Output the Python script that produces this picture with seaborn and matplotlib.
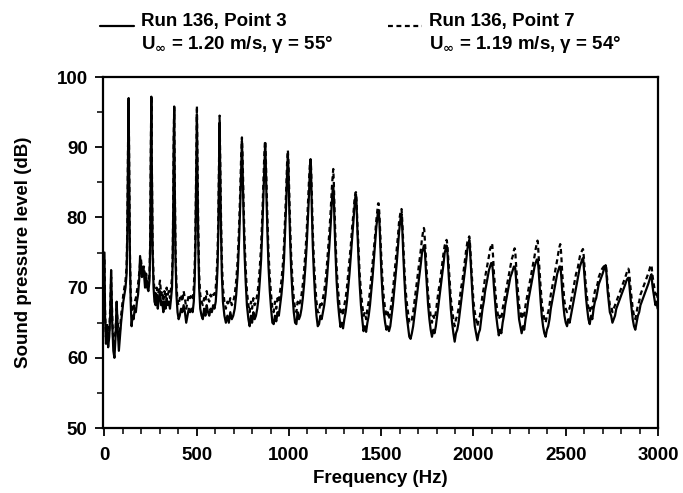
import matplotlib
matplotlib.use("Agg")
import matplotlib.pyplot as plt
import seaborn as sns
import pandas as pd
from matplotlib.lines import Line2D
from matplotlib.legend_handler import HandlerLine2D
from matplotlib.ticker import MultipleLocator

# ---------------- data ----------------
freq_hz = [
    0, 3, 8, 14, 20, 26, 31, 36, 42, 48, 54, 60, 66, 72, 78, 84, 90, 96, 102, 108, 114, 120, 124, 128, 131, 134, 138, 142, 147,
    152, 158, 164, 170, 176, 182, 188, 193, 198, 203, 208, 214, 220, 226, 232, 238, 244, 248, 251, 254, 257, 261, 266,
    271, 277, 283, 289, 295, 301, 307, 313, 319, 325, 331, 337, 343, 349, 355, 361, 366, 370, 373, 375, 378, 381, 385, 390,
    396, 402, 408, 415, 422, 429, 436, 443, 450, 457, 464, 471, 478, 484, 489, 493, 496, 498, 501, 504, 508, 513,
    519, 526, 533, 540, 547, 554, 561, 568, 575, 582, 589, 596, 603, 608, 613, 617, 620, 622, 624, 627, 631, 636,
    642, 650, 658, 666, 674, 682, 690, 698, 706, 714, 722, 730, 736, 741, 745, 747, 750, 754, 759, 765,
    772, 780, 787, 794, 800, 807, 814, 821, 828, 835, 842, 849, 855, 860, 865, 869, 871, 874, 878, 883, 889,
    896, 903, 910, 917, 924, 931, 938, 945, 952, 959, 966, 973, 979, 985, 990, 994, 997, 1001, 1006, 1012,
    1019, 1026, 1033, 1040, 1047, 1054, 1061, 1068, 1075, 1082, 1089, 1096, 1102, 1108, 1113, 1117, 1120, 1124, 1129, 1135,
    1142, 1149, 1156, 1163, 1170, 1177, 1184, 1191, 1198, 1205, 1212, 1219, 1226, 1232, 1237, 1240, 1243, 1247, 1252, 1258,
    1265, 1272, 1279, 1286, 1293, 1300, 1307, 1314, 1321, 1328, 1335, 1342, 1349, 1355, 1360, 1363, 1366, 1371, 1377, 1383,
    1390, 1397, 1404, 1411, 1418, 1425, 1432, 1439, 1446, 1453, 1460, 1467, 1473, 1479, 1483, 1486, 1490, 1495, 1501, 1507,
    1514, 1521, 1528, 1535, 1542, 1549, 1556, 1563, 1570, 1577, 1584, 1591, 1597, 1603, 1607, 1610, 1614, 1619, 1625, 1631,
    1638, 1645, 1652, 1659, 1666, 1673, 1680, 1687, 1694, 1701, 1708, 1715, 1721, 1727, 1731, 1733, 1737, 1742, 1748, 1754,
    1761, 1768, 1775, 1782, 1789, 1796, 1803, 1810, 1817, 1824, 1831, 1838, 1844, 1850, 1854, 1856, 1860, 1865, 1871, 1877,
    1884, 1891, 1898, 1905, 1912, 1919, 1926, 1933, 1940, 1947, 1954, 1961, 1967, 1973, 1977, 1979, 1983, 1988, 1994, 2000,
    2007, 2014, 2021, 2028, 2035, 2042, 2049, 2056, 2063, 2070, 2077, 2084, 2090, 2096, 2100, 2102, 2106, 2111, 2117, 2123,
    2130, 2137, 2144, 2151, 2158, 2165, 2172, 2179, 2186, 2193, 2200, 2207, 2213, 2219, 2223, 2226, 2230, 2235, 2241, 2247,
    2254, 2261, 2268, 2275, 2282, 2289, 2296, 2303, 2310, 2317, 2324, 2331, 2337, 2343, 2347, 2349, 2353, 2358, 2364, 2370,
    2377, 2384, 2391, 2398, 2405, 2412, 2419, 2426, 2433, 2440, 2447, 2454, 2460, 2466, 2470, 2472, 2476, 2481, 2487, 2493,
    2500, 2507, 2514, 2521, 2528, 2535, 2542, 2549, 2556, 2563, 2570, 2577, 2583, 2589, 2593, 2595, 2599, 2604, 2610, 2616,
    2623, 2630, 2637, 2644, 2651, 2658, 2665, 2672, 2679, 2686, 2693, 2700, 2706, 2712, 2716, 2718, 2722, 2727, 2733, 2739,
    2746, 2753, 2760, 2767, 2774, 2781, 2788, 2795, 2802, 2809, 2816, 2823, 2829, 2835, 2839, 2842, 2846, 2851, 2857, 2863,
    2870, 2877, 2884, 2891, 2898, 2905, 2912, 2919, 2926, 2933, 2940, 2947, 2953, 2958, 2962, 2965, 2969, 2974, 2980, 2986, 2992, 2998,
]

spl_point3 = [
    75, 66, 62, 64, 61.5, 63, 66, 72.5, 65, 61, 60, 63, 68, 64, 61, 63, 65, 66.5, 68, 69, 70, 72, 78, 90, 97, 86, 74, 68, 64.5,
    66, 65.5, 67, 66.5, 68, 69, 71, 74.5, 73, 71.5, 73, 72, 70, 71.5, 70, 69.5, 71, 76, 88, 97.2, 86, 75, 70,
    68, 67.5, 69, 67, 68.5, 69.5, 67.5, 68, 66.5, 68, 67, 68.5, 67.5, 68, 67, 68.5, 70, 74, 82, 90, 95.7, 84, 74, 69,
    66.5, 65.5, 66, 67, 66.5, 67.5, 66.5, 65, 66, 67, 66.5, 67, 66.5, 68, 71, 76, 83, 89, 94.7, 86, 77, 70,
    67, 66, 65.5, 67, 66, 67.5, 66.5, 66, 67, 66.5, 67.5, 67, 68, 70, 73, 78, 84, 89, 93.5, 87, 79, 72,
    68, 66, 65, 66, 65, 66.5, 65.5, 66, 67, 69, 72, 77, 82, 87, 90.9, 89, 85, 80, 75, 71,
    67.5, 65.5, 64.5, 66, 65, 66.5, 65.5, 66, 67, 68.5, 71, 74, 78, 82, 86, 89.5, 90.6, 88, 83, 78, 73,
    69.5, 67, 65, 64.8, 66, 65.2, 66.5, 66, 67.5, 69, 71, 74, 78, 82, 86.5, 89.0, 87, 82, 77, 72.5,
    69, 66.5, 65, 64.8, 66.5, 65.5, 66, 67, 68.5, 70.5, 73, 76, 79.5, 83, 86.5, 88.2, 86, 81, 76, 72,
    68.5, 66, 64.5, 64.8, 66, 65.5, 66.5, 67.5, 69, 71, 73.5, 76, 79, 82, 84, 84.5, 83, 79, 75, 71,
    68, 66, 64.4, 65, 64.2, 65.5, 66.5, 68, 70, 72, 74.5, 77, 79.5, 81.5, 83, 83.3, 82, 78, 74, 70.5,
    67.5, 65.5, 63.8, 64.5, 63.7, 65, 66, 67.5, 69.5, 71.5, 74, 76.5, 78.5, 80, 81, 81, 79.5, 76, 72, 69,
    66.5, 65, 64, 64.5, 63.8, 64.5, 66, 67.5, 69.5, 71.5, 73.5, 76, 78, 79.5, 80.3, 80.5, 78.5, 75, 71.5, 68.5,
    66, 64.5, 63, 62.7, 63.5, 64.5, 66, 67.5, 69, 70.5, 72, 73.5, 75, 75.5, 76, 76, 75, 72.5, 70, 67.5,
    65.5, 64, 63, 64, 63.5, 64.5, 66, 67.5, 69, 70.5, 72, 73.5, 75, 75.5, 76, 75.8, 74.5, 72, 69.5, 67,
    65, 63.5, 62.3, 63.5, 64, 65, 66.5, 68, 69.5, 71, 72.5, 74, 75.5, 76.3, 76.8, 76.5, 74.5, 72, 69, 66.5,
    64.5, 63.5, 62.5, 63.5, 64, 65.5, 67, 68, 69.5, 70.5, 71.5, 72.5, 73, 73.5, 73.5, 73.3, 72, 70, 68, 66,
    64.5, 63.2, 64, 63.5, 65, 66, 67.5, 68.5, 69.5, 70.5, 71.5, 72, 72.5, 73, 73, 72.8, 71.5, 69.5, 67.5, 65.5,
    64.5, 63.5, 64.5, 64, 65.5, 66.5, 68, 69, 70, 71, 72, 73, 73.5, 74, 74, 73.8, 72.5, 70.5, 68, 66,
    64.5, 63.5, 63, 64, 64.5, 65.5, 67, 68, 69, 70, 71, 72, 72.5, 73, 73, 72.8, 71.5, 69.5, 67.5, 66,
    65, 64.5, 65.5, 65, 66, 67, 68, 69, 70, 71, 72, 73, 73.5, 74, 74.2, 74, 72.5, 70.5, 68.5, 67,
    65.5, 64.8, 66, 65.5, 67, 68, 68.5, 69.5, 70.5, 71, 71.5, 72, 72.5, 73, 73.2, 73, 71.5, 69.5, 68, 66.5,
    66, 65, 65.5, 66, 67, 67.5, 68, 68.5, 69, 69.5, 70, 70.5, 71, 71.3, 71.4, 71.2, 70, 68.5, 67, 65.5,
    64.5, 64, 65, 66, 66.5, 67.5, 68, 68.5, 69, 69.5, 70, 70.5, 71, 71.5, 71.8, 71.9, 70.5, 69.5, 68.5, 67.5, 68, 67,
]

spl_point7 = [
    74, 67, 63, 65, 62.5, 64, 67, 71.5, 66, 62, 61.5, 64, 67, 65, 62.5, 64, 66, 67.5, 69, 70, 71, 73, 79, 91, 96.8, 87, 75, 69.5, 66.5,
    67.5, 67, 68, 68.5, 69.5, 70.5, 72, 73.5, 74, 72.5, 72, 73, 71.5, 72, 71, 70.5, 72, 77, 89, 97.3, 87, 76, 71.5,
    69.5, 69, 70, 68.5, 70, 71, 69, 69.5, 68, 69.5, 68.5, 70, 69, 69.5, 68.5, 70, 71.5, 75, 83, 91, 95.8, 85, 75.5, 70.5,
    68, 67.5, 68.5, 69, 68, 69.5, 68.5, 67, 68, 69, 68.5, 69, 68.5, 70, 73, 78, 85, 91, 95.9, 88, 79, 72,
    69, 68, 67.5, 68.5, 68, 69.5, 68.5, 68, 69, 68.5, 69, 69, 70, 72, 75, 80, 86, 91, 94.5, 89, 81, 74,
    70, 68, 67, 68, 67.5, 68.5, 67.5, 68, 69, 71, 74, 79, 84, 89, 91.4, 90, 87, 82, 77, 73,
    69.5, 67.5, 66.5, 68, 67, 68.5, 67.5, 68, 69, 70.5, 73, 76, 80, 84, 88, 90.5, 90.9, 89, 85, 80, 75,
    71.5, 69, 67, 66.5, 68, 67, 68.5, 68, 69.5, 71, 73, 76, 80, 84, 88, 89.6, 88, 84, 79, 74.5,
    71, 68.5, 67, 66.5, 68, 67.5, 68, 69, 70.5, 72.5, 75, 78, 81.5, 85, 87.5, 88.3, 87, 83, 78, 74,
    70.5, 68, 66.5, 66.5, 68, 67.5, 68.5, 69.5, 71, 73, 75.5, 78, 81, 84, 86, 86.9, 85, 81, 77, 73,
    70, 68, 66.5, 67, 66, 67.5, 68.5, 70, 72, 74, 76, 78.5, 80.5, 82.5, 83.5, 83.6, 82.5, 79, 75.5, 72,
    69.5, 67.5, 66, 66.5, 65.5, 67, 68, 69.5, 71.5, 73.5, 75.5, 77.5, 79.5, 81, 82, 82, 80.5, 77.5, 74, 71,
    68.5, 67, 66, 66.5, 65.5, 66.5, 68, 69.5, 71.5, 73.5, 75.5, 77.5, 79.5, 80.5, 81, 81.2, 79.5, 76.5, 73, 70,
    68, 66.5, 65, 65, 65.5, 66.5, 68, 69.5, 71, 72.5, 74, 75.5, 77, 78, 78.5, 78.3, 76.5, 74, 71.5, 69,
    67.5, 66, 65, 66, 65.5, 66.5, 68, 69.5, 70.5, 72, 73.5, 75, 76, 76.5, 76.8, 76.6, 75.5, 73.5, 71, 68.5,
    67, 65.5, 64.5, 65.5, 66, 67, 68.5, 70, 71, 72.5, 74, 75.5, 76.5, 77, 77.3, 77, 75.5, 73, 70.5, 68,
    66.5, 65.5, 64.5, 65.5, 66, 67.5, 69, 70, 71.5, 72.5, 73.5, 74.5, 75.5, 76, 76.3, 76, 74.5, 72, 70, 68,
    66.5, 65.5, 66, 65.5, 67, 68, 69, 70, 71, 72, 73, 74, 74.5, 75.3, 75.6, 75.3, 73.5, 71.5, 69.5, 67.5,
    66.5, 65.5, 66.5, 66, 67.5, 68.5, 69.5, 70.5, 71.5, 72.5, 73.5, 74.5, 75.5, 76.3, 76.7, 76.4, 74.5, 72.5, 70, 68,
    66.5, 65.5, 65, 66, 66.5, 67.5, 69, 70, 71, 72, 73, 74, 75, 75.8, 76.2, 76, 74.5, 72, 70, 68,
    67, 66.5, 67, 67, 68, 69, 70, 71, 72, 72.5, 73.5, 74.5, 75, 75.3, 75.5, 75.3, 74, 72, 70, 68.5,
    67, 66.5, 67.5, 67, 68.5, 69.5, 70, 70.5, 71.5, 72, 72.5, 72.8, 73, 73.2, 73.2, 73, 72, 70.5, 69, 67.5,
    67.5, 66.5, 67, 67.5, 68, 68.5, 69, 69.5, 70, 70.5, 71, 71.5, 72, 72.5, 72.7, 72.5, 71.5, 70, 68.5, 67,
    66, 65.5, 66.5, 67.5, 68, 69, 69.5, 70, 70.5, 71, 71.5, 72, 72.5, 73, 73.2, 73.2, 72, 71, 70, 69, 69.5, 68.5,
]

run_titles = ["Run 136, Point 3", "Run 136, Point 7"]
run_conditions = ["U$_{\\mathsf{\\infty}}$ = 1.20 m/s, γ = 55°",
                  "U$_{\\mathsf{\\infty}}$ = 1.19 m/s, γ = 54°"]
x_ticks = [0, 500, 1000, 1500, 2000, 2500, 3000]
y_ticks = [50, 60, 70, 80, 90, 100]

assert len(freq_hz) == len(spl_point3) == len(spl_point7)

# ---------------- style ----------------
sns.set_theme(style="ticks")
plt.rcParams["font.family"] = ["Liberation Sans", "DejaVu Sans"]
plt.rcParams["font.weight"] = "bold"
plt.rcParams["text.color"] = "black"
plt.rcParams["axes.labelcolor"] = "black"
plt.rcParams["xtick.color"] = "black"
plt.rcParams["ytick.color"] = "black"
plt.rcParams["mathtext.fontset"] = "custom"
plt.rcParams["mathtext.rm"] = "Liberation Sans:bold"
plt.rcParams["mathtext.it"] = "Liberation Sans:bold"
plt.rcParams["mathtext.bf"] = "Liberation Sans:bold"
plt.rcParams["mathtext.sf"] = "DejaVu Sans:bold"

FS = 13.5
DASH = (0, (2.2, 1.6))
LW = 1.6

fig = plt.figure(figsize=(6.83, 4.93), dpi=100)
ax = fig.add_axes([0.1508, 0.1318, 0.8126, 0.7120])

df3 = pd.DataFrame({"f": freq_hz, "spl": spl_point3})
df7 = pd.DataFrame({"f": freq_hz, "spl": spl_point7})

sns.lineplot(data=df3, x="f", y="spl", ax=ax, color="black", linewidth=LW,
             estimator=None, sort=False)
sns.lineplot(data=df7, x="f", y="spl", ax=ax, color="black", linewidth=LW,
             estimator=None, sort=False, linestyle=DASH)

ax.set_xlim(-8, 3000)
ax.set_ylim(50, 100)
ax.set_xticks(x_ticks)
ax.set_yticks(y_ticks)
ax.xaxis.set_minor_locator(MultipleLocator(100))
ax.yaxis.set_minor_locator(MultipleLocator(5))
ax.tick_params(axis="both", which="major", direction="out", length=6, width=1.3,
               labelsize=FS, colors="black", pad=5)
ax.tick_params(axis="x", which="major", pad=8)
ax.tick_params(axis="both", which="minor", direction="out", length=4, width=1.1)
for lab in ax.get_xticklabels() + ax.get_yticklabels():
    lab.set_fontweight("bold")
for s in ax.spines.values():
    s.set_linewidth(1.6)
    s.set_color("black")
    s.set_visible(True)

ax.set_xlabel("Frequency (Hz)", fontsize=FS, fontweight="bold", labelpad=4)
ax.set_ylabel("Sound pressure level (dB)", fontsize=FS, fontweight="bold", labelpad=18)


class LowLineHandler(HandlerLine2D):
    """Draw the legend line at the baseline of the first text line."""
    def create_artists(self, legend, orig_handle, xdescent, ydescent, width,
                       height, fontsize, trans):
        arts = super().create_artists(legend, orig_handle, xdescent, ydescent,
                                      width, height, fontsize, trans)
        for a in arts:
            n = len(a.get_ydata())
            a.set_ydata([-ydescent] * n)
        return arts


blank = Line2D([], [], linestyle="none")
handles = [Line2D([], [], color="black", linewidth=LW), blank,
           Line2D([], [], color="black", linewidth=LW, linestyle=DASH), blank]
labels = [run_titles[0], run_conditions[0], run_titles[1], run_conditions[1]]
leg = ax.legend(handles, labels, ncol=2, loc="lower left",
                bbox_to_anchor=(-0.005, 1.062), frameon=False,
                prop={"weight": "bold", "size": FS}, handlelength=1.8,
                handletextpad=0.4, columnspacing=2.9, borderaxespad=0,
                borderpad=0, labelspacing=0.2,
                handler_map={Line2D: LowLineHandler()})

fig.savefig("out.png", dpi=100, facecolor="white")
